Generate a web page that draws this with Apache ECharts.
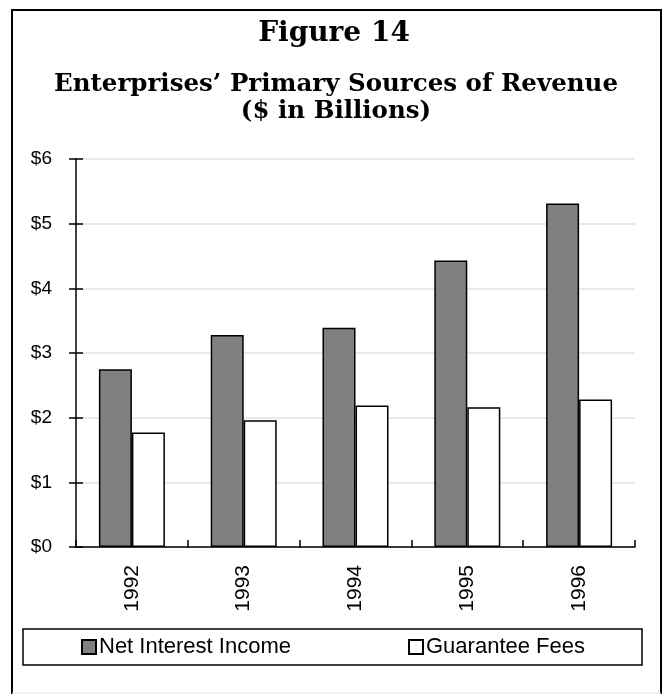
<!DOCTYPE html>
<html>
<head>
<meta charset="utf-8">
<script src="https://cdn.jsdelivr.net/npm/echarts@6/dist/echarts.min.js"></script>
<style>
html, body { margin: 0; padding: 0; background: #fff; }
#chart { width: 663px; height: 694px; }
</style>
</head>
<body>
<div id="chart"></div>
<script>
// values ($ billions)
const years = ['1992', '1993', '1994', '1995', '1996'];
const netInterestIncome = [2.75, 3.28, 3.39, 4.43, 5.31];
const guaranteeFees = [1.77, 1.96, 2.19, 2.16, 2.28];
const yMin = 0;
const yMax = 6;
const yStep = 1;

const sans = 'Liberation Sans, Arial, sans-serif';
const serif = 'DejaVu Serif, serif';

const chart = echarts.init(document.getElementById('chart'));

const plot = { left: 76, right: 28, top: 159, bottom: 147 };

const options = {
    animation: false,
    backgroundColor: '#fff',
    // second grid only carries the inner half of the crossing ticks
    grid: [Object.assign({}, plot), Object.assign({}, plot)],
    legend: [
        {
            data: ['Net Interest Income'],
            left: 81,
            top: 636,
            padding: 0,
            icon: 'rect',
            itemWidth: 14,
            itemHeight: 14,
            textStyle: { fontFamily: sans, fontSize: 22, color: '#000', padding: [0, 0, 0, -2] }
        },
        {
            data: ['Guarantee Fees'],
            left: 408,
            top: 636,
            padding: 0,
            icon: 'rect',
            itemWidth: 14,
            itemHeight: 14,
            textStyle: { fontFamily: sans, fontSize: 22, color: '#000', padding: [0, 0, 0, -2] }
        }
    ],
    xAxis: [
        {
            type: 'category',
            gridIndex: 0,
            data: years,
            axisLine: { lineStyle: { color: '#000', width: 1.5 } },
            axisTick: { length: 8, lineStyle: { color: '#000', width: 1.5 } },
            axisLabel: {
                rotate: 90,
                margin: 18,
                fontFamily: sans,
                fontSize: 21,
                color: '#000'
            }
        },
        {
            type: 'category',
            gridIndex: 1,
            data: years,
            position: 'bottom',
            axisLine: { show: false },
            axisTick: { show: true, inside: true, length: 7, lineStyle: { color: '#000', width: 1.5 } },
            axisLabel: { show: false }
        }
    ],
    yAxis: [
        {
            type: 'value',
            gridIndex: 0,
            min: yMin,
            max: yMax,
            interval: yStep,
            axisLine: { show: true, lineStyle: { color: '#000', width: 1.5 } },
            axisTick: { show: true, length: 7, lineStyle: { color: '#000', width: 1.5 } },
            axisLabel: {
                margin: 24,
                fontFamily: sans,
                fontSize: 19,
                color: '#000',
                formatter: function (v) { return '$' + v; }
            },
            splitLine: { lineStyle: { color: '#e2e2e2', width: 1.5 } }
        },
        {
            type: 'value',
            gridIndex: 1,
            min: yMin,
            max: yMax,
            interval: yStep,
            position: 'left',
            axisLine: { show: false },
            axisTick: { show: true, inside: true, length: 7, lineStyle: { color: '#000', width: 1.5 } },
            axisLabel: { show: false },
            splitLine: { show: false }
        }
    ],
    series: [
        {
            name: 'Net Interest Income',
            type: 'bar',
            data: netInterestIncome,
            barWidth: 33,
            barGap: '0%',
            itemStyle: { color: '#808080', borderColor: '#000', borderWidth: 1.5 }
        },
        {
            name: 'Guarantee Fees',
            type: 'bar',
            data: guaranteeFees,
            barWidth: 33,
            barGap: '0%',
            itemStyle: { color: '#fff', borderColor: '#000', borderWidth: 1.5 }
        }
    ],
    graphic: [
        {
            type: 'polyline',
            shape: { points: [[12, 694], [12, 10], [661, 10], [661, 694]] },
            style: { fill: null, stroke: '#000', lineWidth: 2 },
            silent: true
        },
        {
            type: 'line',
            shape: { x1: 12, y1: 693, x2: 661, y2: 693 },
            style: { stroke: '#e6e6e6', lineWidth: 1 },
            silent: true
        },
        {
            type: 'rect',
            shape: { x: 23, y: 629, width: 619, height: 36 },
            style: { fill: null, stroke: '#000', lineWidth: 1.5 },
            z: -1,
            silent: true
        },
        {
            type: 'text',
            x: 334,
            y: 20,
            style: {
                text: 'Figure 14',
                textAlign: 'center',
                textVerticalAlign: 'top',
                font: 'bold 28px ' + serif,
                fill: '#000'
            }
        },
        {
            type: 'text',
            x: 336,
            y: 71,
            style: {
                text: 'Enterprises\u2019 Primary Sources of Revenue\n($ in Billions)',
                textAlign: 'center',
                textVerticalAlign: 'top',
                font: 'bold 24.5px ' + serif,
                lineHeight: 27,
                fill: '#000'
            }
        }
    ]
};

chart.setOption(options);
</script>
</body>
</html>
